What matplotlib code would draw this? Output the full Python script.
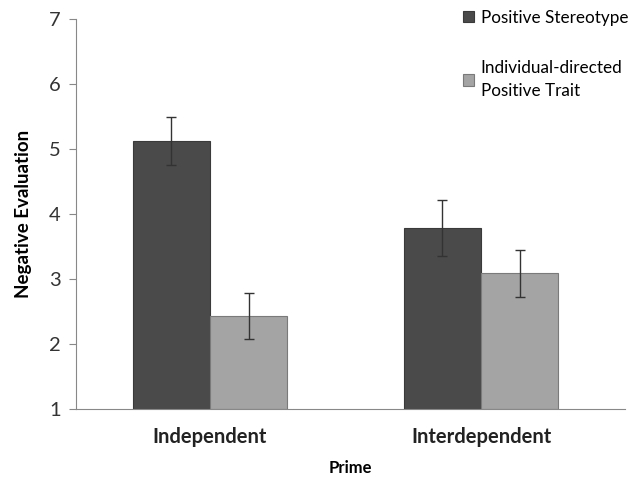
import matplotlib.pyplot as plt
import numpy as np

plt.rcParams['font.family'] = ['Lato', 'DejaVu Sans']

categories = ["Independent", "Interdependent"]
series_names = ["Positive Stereotype", "Individual-directed\nPositive Trait"]
stereotype = [5.12, 3.78]
stereotype_err = [0.37, 0.43]
trait = [2.43, 3.09]
trait_err = [0.35, 0.36]

x = np.arange(len(categories))
w = 0.285

fig = plt.figure(figsize=(6.39, 4.78), dpi=100)
ax = fig.add_axes([0.119, 0.1444, 0.859, 0.8158])

err_kw = dict(ecolor="#333333", elinewidth=1, capsize=3.5, capthick=1)
b1 = ax.bar(x - w / 2, stereotype, w, yerr=stereotype_err,
            color="#4a4a4a", edgecolor="#3a3a3a", linewidth=0.8, error_kw=err_kw,
            label=series_names[0])
b2 = ax.bar(x + w / 2, trait, w, yerr=trait_err,
            color="#a4a4a4", edgecolor="#7a7a7a", linewidth=0.8, error_kw=err_kw,
            label=series_names[1])

ax.set_ylim(1, 7)
ax.set_xlim(-0.494, 1.531)
# bars start at the axis floor (1), not at 0
for b in list(b1) + list(b2):
    b.set_y(1)
    b.set_height(b.get_height() - 1)

ax.set_yticks(range(1, 8))
ax.tick_params(axis="y", labelsize=14.5, colors="#333333", length=5, width=0.8,
               color="#888888", pad=6)
ax.tick_params(axis="x", length=0, labelsize=14.5, pad=13)
ax.set_xticks(x)
ax.set_xticklabels(categories, fontweight="bold", color="#222222")
for s in ["top", "right"]:
    ax.spines[s].set_visible(False)
ax.spines["left"].set_color("#888888")
ax.spines["bottom"].set_color("#888888")

ax.set_ylabel("Negative Evaluation", fontsize=13.5, fontweight="bold", labelpad=12)
ax.set_xlabel("Prime", fontsize=12, fontweight="bold", labelpad=9)

leg = fig.legend(handles=[b1, b2], labels=series_names, loc="upper left",
                 bbox_to_anchor=(0.700, 1.012), frameon=False, fontsize=12.3,
                 handlelength=0.65, handleheight=0.65, handletextpad=0.4,
                 labelspacing=2.0)
for t in leg.get_texts():
    t.set_linespacing(1.55)

fig.savefig("out.png", dpi=100)
